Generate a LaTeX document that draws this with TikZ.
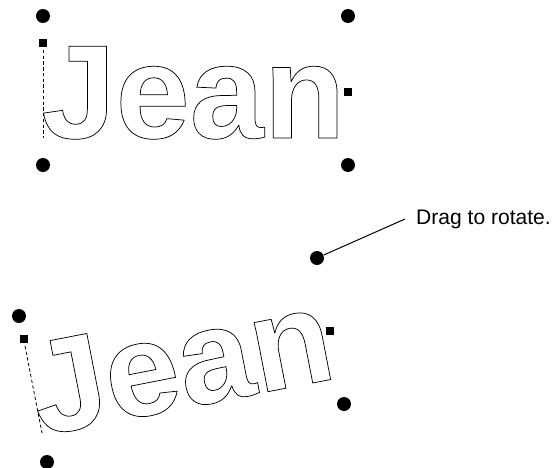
\documentclass[tikz,border=0pt]{standalone}
\usepackage{fontspec}
\setmainfont{Liberation Sans}

% outlined glyphs (text render mode 1)
\newcommand{\outlined}[1]{\special{pdf:literal direct 1 Tr 0.55 w}#1\special{pdf:literal direct 0 Tr}}

\tikzset{every picture/.style={line width=0.75pt}}
\tikzset{
  knob/.style={circle,fill=black,inner sep=0pt,minimum size=10.5pt},
  tab/.style={rectangle,fill=black,inner sep=0pt,minimum size=6pt},
  edgeline/.style={dash pattern=on 2.5pt off 1.8pt,line width=0.6pt},
  bigword/.style={inner sep=0pt,font=\fontsize{100}{100}\selectfont\bfseries}
}

\begin{document}
\begin{tikzpicture}[x=0.75pt,y=0.75pt,yscale=-1,xscale=1]
\useasboundingbox (0,0) rectangle (554,468);

% upright word
\node [bigword,anchor=base west] (jean) at (41,138) {\outlined{Jean}};
\node [knob] (tl) at (43,16) {};
\node [knob] (tr) at (348,16) {};
\node [knob] (bl) at (43,165) {};
\node [knob] (br) at (348,165) {};
\node [tab] (lefttab) at (43,43) {};
\node [tab] (righttab) at (348,92) {};
\coordinate (edgetop) at (43,50);
\coordinate (edgebot) at (43,138);
\draw [edgeline] (edgetop) -- (edgebot);

% rotated word
\node [bigword,anchor=base west,rotate=11] (jeanrot) at (40,436) {\outlined{Jean}};
\node [knob] (rtl) at (19,316) {};
\node [knob] (rbl) at (47,462) {};
\node [knob] (rbr) at (344,404) {};
\node [knob] (rotknob) at (317,258) {};
\node [tab] (rlefttab) at (24,339) {};
\node [tab] (rrighttab) at (330,331) {};
\coordinate (redgetop) at (25,346);
\coordinate (redgebot) at (42,433);
\draw [edgeline] (redgetop) -- (redgebot);

% Text Node
\node [anchor=west,inner xsep=8pt,inner ysep=0pt,font=\fontsize{15.8}{18}\selectfont] (drag) at (405,219) {Drag to rotate.};
\draw (rotknob) -- (drag.west);

\end{tikzpicture}
\end{document}
